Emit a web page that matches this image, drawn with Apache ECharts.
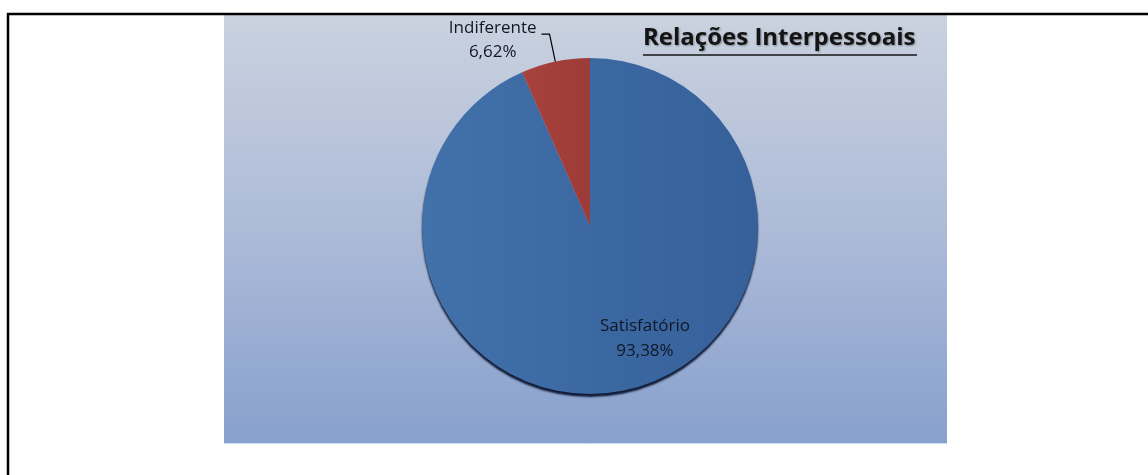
<!DOCTYPE html>
<html>
<head>
<meta charset="utf-8">
<script src="https://cdn.jsdelivr.net/npm/echarts@6/dist/echarts.min.js"></script>
<style>
  html, body { margin: 0; padding: 0; background: #ffffff; }
  #chart { width: 1148px; height: 475px; }
</style>
</head>
<body>
<div id="chart"></div>
<script>
// Pie data: share of answers for "Relações Interpessoais"
const categories = ['Satisfatório', 'Indiferente'];
const values = [93.38, 6.62];
const sliceColors = [
  ['#4271aa', '#36609a'],
  ['#a8423c', '#9c3b37']
];
const titleText = 'Relações Interpessoais';

const FONT = '"Open Sans", "Liberation Sans", sans-serif';

function pct(v) {
  return v.toFixed(2).replace('.', ',') + '%';
}

const chart = echarts.init(document.getElementById('chart'), null, { renderer: 'canvas' });

const pieData = categories.map(function (name, i) {
  const item = {
    name: name,
    value: values[i],
    itemStyle: {
      color: new echarts.graphic.LinearGradient(0, 0, 1, 0, [
        { offset: 0, color: sliceColors[i][0] },
        { offset: 1, color: sliceColors[i][1] }
      ])
    }
  };
  if (i === 0) {
    // main slice: dark rim at the bottom edge
    item.itemStyle.shadowColor = 'rgba(8, 18, 45, 0.95)';
    item.itemStyle.shadowOffsetY = 3;
    item.itemStyle.shadowBlur = 2;
    item.label = {
      position: 'inside',
      formatter: function (p) { return p.name + '\n' + pct(p.value); },
      fontFamily: FONT,
      fontSize: 17,
      lineHeight: 25,
      color: '#111726',
      align: 'center'
    };
  } else {
    item.label = {
      position: 'outside',
      formatter: function (p) { return '{a|' + p.name + '}\n{a|' + pct(p.value) + '}'; },
      padding: [12, 0, 0, 0],
      rich: {
        a: { fontFamily: FONT, fontSize: 17, lineHeight: 24, color: '#111726', align: 'center' }
      }
    };
    item.labelLine = {
      show: true,
      length: 28,
      length2: 8,
      lineStyle: { color: '#000000', width: 1.2 }
    };
  }
  return item;
});

const option = {
  backgroundColor: '#ffffff',
  animation: false,
  graphic: [
    // chart area background
    {
      type: 'rect', z: 0,
      shape: { x: 224, y: 15, width: 723, height: 429 },
      style: {
        fill: new echarts.graphic.LinearGradient(0, 0, 0, 1, [
          { offset: 0, color: '#cad2df' },
          { offset: 0.5, color: '#adbbd8' },
          { offset: 1, color: '#87a0cd' }
        ])
      }
    },
    {
      type: 'line', z: 1,
      shape: { x1: 224, y1: 443.5, x2: 947, y2: 443.5 },
      style: { stroke: '#c9e2ee', lineWidth: 1 }
    },
    // page frame
    {
      type: 'line', z: 5,
      shape: { x1: 7, y1: 14, x2: 1148, y2: 14 },
      style: { stroke: '#000000', lineWidth: 2.5 }
    },
    {
      type: 'line', z: 5,
      shape: { x1: 8, y1: 13, x2: 8, y2: 475 },
      style: { stroke: '#000000', lineWidth: 2.5 }
    },
    // title and its underline
    {
      type: 'text', z: 5,
      left: 643, top: 26,
      style: {
        text: titleText,
        font: 'bold 24px ' + FONT,
        fill: '#141414',
        textShadowColor: 'rgba(0,0,0,0.35)',
        textShadowBlur: 2,
        textShadowOffsetX: 1,
        textShadowOffsetY: 1
      }
    },
    {
      type: 'line', z: 5,
      shape: { x1: 643, y1: 55, x2: 917, y2: 55 },
      style: { stroke: '#141414', lineWidth: 1.5 }
    }
  ],
  series: [
    {
      type: 'pie',
      z: 3,
      center: [590, 226],
      radius: 168,
      startAngle: 90,
      clockwise: true,
      avoidLabelOverlap: false,
      silent: true,
      data: pieData,
      labelLayout: function (params) {
        if (params.dataIndex === 0) {
          return { dx: 37, dy: 28 };
        }
        return {};
      }
    }
  ]
};

chart.setOption(option);
</script>
</body>
</html>
